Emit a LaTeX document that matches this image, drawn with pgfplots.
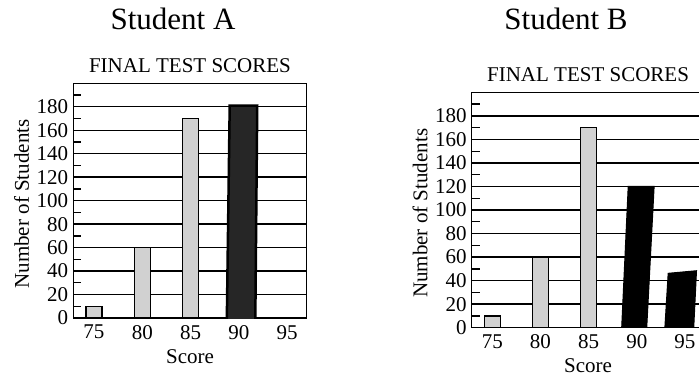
\documentclass[border=0pt]{standalone}
\usepackage{fontspec}
\setmainfont{Liberation Serif}
\usepackage{pgfplots}
\pgfplotsset{compat=1.18}

% one px of the reference = 1pt here
\pgfplotsset{
  scores/.style={
    scale only axis, anchor=south west,
    xmin=72.86, xmax=97.02, ymin=0, ymax=200,
    xtick={75,80,85,90,95}, ytick={0,20,...,180},
    minor ytick={10,30,...,190},
    ytick pos=left, xtick pos=bottom, tick align=inside,
    major tick length=0pt, minor tick length=8pt,
    ymajorgrids, major grid style={black, line width=1.4pt},
    minor tick style={black, line width=1.3pt},
    axis line style={line width=1.5pt},
    /pgf/number format/assume math mode=true,
    title={FINAL TEST SCORES},
    title style={at={(axis description cs:0.5,1)}, anchor=base, yshift=5pt, inner sep=0pt},
    xlabel={Score},
    xlabel style={at={(axis description cs:0.5,0)}, anchor=base, yshift=-45pt, inner sep=0pt},
    ylabel={Number of Students},
    ylabel style={at={(axis description cs:-0.19,0.486)}, anchor=base, inner sep=0pt},
    yticklabel style={anchor=east, inner sep=0pt, xshift=-5pt},
    xticklabel style={anchor=north, inner sep=0pt, yshift=-7pt},
  },
  graybar/.style={ybar, bar width=16pt, fill=black!18, draw=black, line width=1.3pt},
}

\begin{document}
\begin{tikzpicture}[font=\fontsize{21}{25}\selectfont]
\useasboundingbox (0,0) rectangle (699pt,381pt);

\node[anchor=base, font=\fontsize{31}{36}\selectfont] at (173pt,351.7pt) {Student A};
\node[anchor=base, font=\fontsize{31}{36}\selectfont] at (566pt,351.7pt) {Student B};

% Student A
\begin{axis}[scores, at={(73.3pt,63pt)}, width=233.4pt, height=234.7pt]
  \addplot[graybar] coordinates {(75,10) (80,60) (85,170)};
  % hand-shaded bar
  \addplot[fill=black!85, draw=black, line width=2.5pt]
    coordinates {(88.75,-2) (89.05,181) (91.9,181) (91.7,-2)} --cycle;
\end{axis}

% Student B
\begin{axis}[scores, at={(471.7pt,53.3pt)}, width=232.7pt, height=235.4pt]
  \addplot[graybar] coordinates {(75,10) (80,60) (85,170)};
  \addplot[fill=black, draw=black, line width=1pt]
    coordinates {(88.42,-2) (89.11,120) (91.8,120) (91.02,-2)} --cycle;
  \addplot[fill=black, draw=black, line width=1pt]
    coordinates {(92.9,-2) (93.26,46.2) (96.2,48.4) (95.9,-2)} --cycle;
\end{axis}
\end{tikzpicture}
\end{document}
